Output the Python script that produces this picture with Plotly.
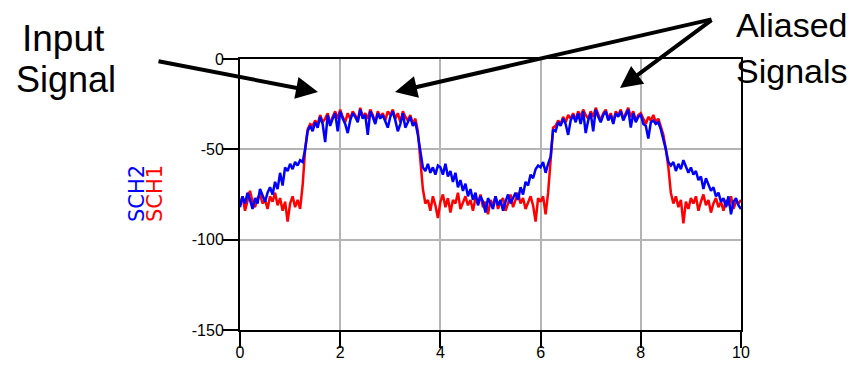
import plotly.graph_objects as go

# ---- data ----
x_vals = [round(i * 0.05, 2) for i in range(201)]

sch1 = [
    -80, -76, -84, -78, -73, -79, -82, -77, -75, -80, -78, -83, -76, -79, -74, -81, -77, -84, -79, -90,
    -80, -76, -82, -78, -83, -70, -50, -39, -36, -37, -34, -36, -31, -35, -33, -30, -36, -32, -29, -33,
    -28, -32, -35, -30, -33, -29, -31, -34, -27, -32, -30, -33, -28, -31, -35, -29, -32, -30, -34, -29,
    -31, -28, -33, -30, -35, -29, -32, -34, -31, -36, -33, -40, -55, -72, -80, -78, -84, -76, -81, -88,
    -79, -75, -82, -77, -85, -78, -80, -74, -83, -79, -76, -81, -78, -84, -77, -80, -75, -82, -79, -86,
    -78, -81, -76, -83, -79, -77, -84, -80, -75, -82, -78, -74, -80, -77, -83, -79, -76, -81, -90, -77,
    -79, -76, -86, -74, -53, -38, -37, -34, -36, -32, -35, -31, -33, -30, -34, -29, -32, -28, -31, -33,
    -29, -32, -27, -31, -34, -30, -28, -33, -30, -35, -29, -31, -28, -33, -30, -27, -32, -29, -34, -31,
    -30, -33, -36, -32, -34, -31, -35, -33, -38, -42, -50, -60, -74, -80, -76, -82, -78, -91, -79, -83,
    -77, -80, -76, -84, -79, -75, -81, -78, -85, -80, -77, -82, -79, -84, -78, -81, -76, -83, -79, -80,
    -78,
]

sch2 = [
    -82, -76, -80, -74, -78, -83, -77, -80, -72, -76, -79, -74, -71, -75, -68, -72, -63, -70, -60, -62,
    -58, -61, -57, -59, -56, -57, -50, -40, -37, -40, -35, -38, -32, -36, -46, -31, -37, -33, -30, -40,
    -29, -33, -36, -41, -34, -30, -32, -35, -28, -33, -31, -42, -29, -32, -36, -30, -33, -31, -35, -38,
    -32, -29, -34, -40, -36, -30, -38, -35, -32, -37, -35, -42, -52, -60, -62, -58, -63, -60, -64, -59,
    -60, -64, -58, -65, -62, -68, -63, -71, -67, -73, -69, -76, -72, -78, -74, -81, -76, -79, -85, -77,
    -80, -83, -76, -81, -78, -84, -79, -75, -80, -77, -74, -78, -71, -75, -68, -70, -64, -66, -61, -59,
    -60, -57, -63, -58, -54, -39, -40, -35, -37, -33, -36, -42, -34, -31, -35, -30, -36, -29, -41, -34,
    -30, -40, -28, -32, -35, -31, -29, -34, -31, -36, -30, -32, -29, -34, -31, -28, -38, -30, -35, -32,
    -31, -36, -37, -44, -35, -34, -36, -35, -39, -44, -50, -57, -59, -57, -62, -58, -61, -56, -60, -63,
    -60, -64, -62, -67, -65, -72, -66, -70, -73, -71, -76, -74, -79, -77, -82, -76, -86, -79, -77, -81,
    -83,
]

x_ticks = [0, 2, 4, 6, 8, 10]
x_tick_text = ["0", "2", "4", "6", "8", "10"]
y_ticks = [0, -50, -100, -150]
y_tick_text = ["0", "-50", "-100", "-150"]

# ---- figure ----
W, H = 863, 367
L, R, T, B = 240, 741, 59, 330


def px(xp):
    return (xp - L) / (R - L)


def py(yp):
    return (B - yp) / (B - T)


fig = go.Figure()
fig.add_trace(go.Scatter(x=x_vals, y=sch1, mode="lines", name="SCH1",
                         line=dict(color="#ff0000", width=2.5)))
fig.add_trace(go.Scatter(x=x_vals, y=sch2, mode="lines", name="SCH2",
                         line=dict(color="#0000ff", width=2.5)))

fig.update_layout(
    width=W, height=H,
    margin=dict(l=L, r=W - R, t=T, b=H - B, pad=0, autoexpand=False),
    paper_bgcolor="white", plot_bgcolor="white",
    showlegend=False,
)

axis_common = dict(
    showgrid=True, gridcolor="#b4b4b4", gridwidth=2,
    showline=True, linecolor="black", linewidth=2, mirror=True,
    ticks="outside", ticklen=16, tickwidth=2, tickcolor="black",
    tickfont=dict(family="Liberation Sans, Arial", size=16, color="black"),
    zeroline=False, automargin=False,
)
fig.update_xaxes(range=[0, 10], tickvals=x_ticks, ticktext=x_tick_text,
                 ticklabelstandoff=-9, **axis_common)
fig.update_yaxes(range=[-150, 0], tickvals=y_ticks, ticktext=y_tick_text,
                 ticklabelstandoff=-5, **axis_common)

big = dict(family="Liberation Sans, Arial", color="black")
texts = [
    ("Input", 63, 39, 37),
    ("Signal", 66, 80, 36),
    ("Aliased", 792, 25, 34),
    ("Signals", 792, 71, 34),
]
for t, xp, yp, s in texts:
    fig.add_annotation(text=t, x=px(xp), y=py(yp), xref="paper", yref="paper",
                       xanchor="center", yanchor="middle", showarrow=False,
                       font=dict(size=s, **big))

arrows = [
    ((157, 61), (318, 92)),
    ((713, 19), (395, 92)),
    ((713, 19), (620, 88)),
]
for (tx, ty), (hx, hy) in arrows:
    fig.add_annotation(text="", x=px(hx), y=py(hy), xref="paper", yref="paper",
                       ax=tx - hx, ay=ty - hy, showarrow=True,
                       arrowhead=2, arrowsize=1.1, arrowwidth=4, arrowcolor="black",
                       standoff=0)

fig.add_annotation(text="SCH2", x=px(137), y=py(194), xref="paper", yref="paper",
                   textangle=-90, showarrow=False, xanchor="center", yanchor="middle",
                   font=dict(family="DejaVu Sans", size=21, color="#0000ff"))
fig.add_annotation(text="SCH1", x=px(155), y=py(194), xref="paper", yref="paper",
                   textangle=-90, showarrow=False, xanchor="center", yanchor="middle",
                   font=dict(family="DejaVu Sans", size=21, color="#ff0000"))

fig.write_html("out.html")
